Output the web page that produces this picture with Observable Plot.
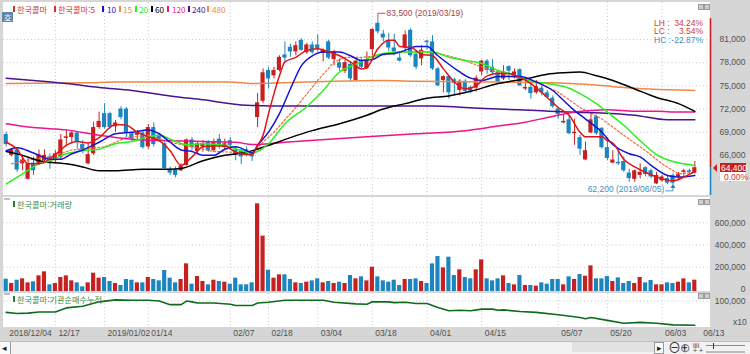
<!DOCTYPE html>
<html lang="ko"><head><meta charset="utf-8">
<script src="https://cdn.jsdelivr.net/npm/d3@7"></script>
<script src="https://cdn.jsdelivr.net/npm/@observablehq/plot@0.6"></script>
<style>
html,body{margin:0;padding:0;background:#d6d6d6;overflow:hidden}
#c{position:relative;width:750px;height:354px;background:#d6d6d6;overflow:hidden;font-family:"Liberation Sans",sans-serif;font-size:8.5px;color:#555}
#c svg{position:absolute;left:0;overflow:visible}
.p{position:absolute;left:3px;width:707px;background:#fff}
.t{position:absolute;white-space:nowrap;line-height:8px}
.k{font-family:"Noto Sans CJK KR",sans-serif;font-size:8.2px;line-height:10px}
.m{position:absolute;width:2px;height:6px}
.i{position:absolute;width:4px;height:4px;background:#ccc;border:.5px solid #999}
</style></head><body><div id="c">
<div class="p" style="top:2px;height:193px"></div>
<div class="p" style="top:197px;height:94px"></div>
<div class="p" style="top:293px;height:34px"></div>
</div>
<script>
// prices in thousands of won, one entry per trading day
const opens=[68.7,66.0,66.7,64.9,62.9,65.0,64.9,65.3,65.8,65.3,
65.7,68.2,68.3,68.9,67.4,64.9,66.2,69.6,71.4,71.4,
69.7,72.0,72.0,68.8,68.6,68.9,67.1,69.6,68.6,67.5,
64.2,64.1,64.0,64.7,68.0,66.5,67.1,67.7,66.6,68.1,
67.0,67.9,66.7,66.6,66.7,66.2,70.9,73.0,77.0,76.3,
77.0,79.0,80.0,79.4,80.9,79.3,80.3,80.3,79.2,80.7,
78.4,78.0,76.9,77.8,75.7,78.3,77.2,79.7,83.1,81.7,
80.9,79.9,78.6,79.9,82.2,79.1,78.5,80.8,80.7,77.2,
75.7,76.2,75.8,74.4,75.6,74.8,74.7,76.8,78.2,77.4,
76.8,75.9,77.5,76.2,77.1,74.6,74.8,74.1,74.7,74.1,
73.4,72.0,70.2,70.6,68.8,68.3,65.4,68.9,71.0,69.5,
67.0,65.0,65.1,65.2,63.7,62.9,63.4,64.4,64.0,62.3,
62.7,63.0,63.4,63.2,63.8,64.0,63.7];
const closes=[67.4,66.7,64.1,65.4,64.9,64.0,66.1,66.0,64.9,66.2,
68.0,68.4,68.9,67.8,66.7,66.1,69.6,70.4,69.6,69.6,
70.2,70.9,68.9,68.1,68.9,67.0,69.6,67.4,68.0,64.3,
63.7,63.4,64.6,68.0,67.0,67.5,67.5,66.6,67.7,67.3,
67.5,67.3,66.0,65.8,66.1,65.8,72.8,76.7,75.9,77.0,
78.7,78.6,79.4,80.2,79.6,80.3,79.3,79.7,79.6,78.6,
79.4,77.3,78.0,75.9,78.2,77.4,78.3,82.3,82.0,81.2,
79.9,79.4,78.2,81.6,78.9,77.4,79.6,80.6,77.2,75.0,
76.2,74.1,75.3,75.6,74.3,74.3,76.0,78.2,77.0,76.7,
75.5,76.8,76.9,76.8,75.0,74.8,74.0,74.9,74.1,73.5,
72.3,71.3,70.4,68.8,69.0,66.8,66.6,70.6,68.8,67.0,
65.6,65.4,64.9,64.0,63.0,64.0,63.8,63.5,63.2,63.4,
63.2,62.4,62.4,63.5,64.0,63.8,64.4];
const highs=[69.0,66.8,66.8,66.0,65.8,65.8,66.7,66.7,66.2,66.6,
68.7,69.3,69.2,69.0,67.9,67.5,70.3,71.6,72.7,71.6,
70.5,72.3,72.2,69.0,69.2,69.2,70.0,70.2,68.8,67.7,
64.5,64.5,64.9,68.1,68.3,67.7,67.9,67.9,68.1,68.7,
68.1,68.3,67.1,66.8,67.1,66.4,74.0,77.2,77.4,77.4,
78.9,80.7,80.4,80.7,81.1,80.5,80.7,81.6,79.8,80.9,
79.6,78.5,78.3,78.1,78.3,78.5,79.4,82.4,83.5,82.2,
81.8,81.7,79.4,82.1,82.4,79.6,80.2,80.9,81.5,77.4,
76.3,76.3,76.0,75.8,75.8,75.0,76.3,78.3,78.4,78.4,
77.0,77.6,77.6,77.2,77.2,75.9,75.3,75.7,75.0,74.4,
73.7,72.1,71.2,71.2,70.7,68.6,67.7,71.3,71.2,69.6,
68.3,66.6,66.8,65.8,64.2,64.1,64.9,64.5,64.2,63.8,
63.4,63.4,63.6,63.8,64.2,64.2,65.2];
const lows=[67.1,65.8,63.8,64.0,62.8,63.4,64.7,64.9,64.2,64.9,
65.4,67.1,67.5,66.8,66.2,64.8,66.0,69.4,69.4,69.4,
69.0,70.6,68.3,67.8,67.9,66.8,66.8,67.1,67.7,64.0,
63.4,63.1,63.9,64.6,66.6,66.2,66.4,66.4,66.4,66.8,
66.6,66.6,65.3,64.8,65.8,65.2,69.6,72.7,74.6,75.9,
76.8,78.1,78.7,78.9,79.5,79.1,79.1,79.4,78.1,78.4,
77.6,76.9,76.6,75.6,75.6,77.2,77.1,78.9,81.7,80.7,
79.4,78.9,78.1,79.6,78.7,77.1,77.6,79.6,77.0,74.9,
74.1,73.3,73.7,73.7,74.0,74.0,74.2,76.3,76.5,76.3,
75.3,75.7,75.7,75.9,74.9,74.4,73.3,73.9,73.7,73.3,
72.1,70.7,70.1,68.7,67.3,66.0,65.3,68.8,68.6,66.8,
65.3,64.9,64.7,63.8,62.5,62.5,63.0,63.2,63.0,62.2,
62.5,62.2,62.2,62.7,63.2,63.6,63.6];
// volume in thousands of shares
const volumes=[92,53,83,95,59,68,122,158,41,53,
107,122,77,59,23,59,146,101,107,71,
53,35,89,83,59,59,107,89,77,170,
101,59,89,230,47,116,71,41,83,71,
65,47,101,41,41,59,771,480,173,101,
131,131,89,59,53,65,77,95,59,71,
53,65,53,125,95,113,77,200,113,77,
65,83,35,89,89,95,71,53,230,296,
194,290,125,176,107,95,176,266,95,77,
95,122,53,41,125,35,35,29,59,47,
89,89,41,113,89,134,119,212,95,95,
116,71,104,53,71,53,107,59,80,41,
41,59,53,65,95,59,83];
// moving averages read at sampled trading days
const ma5Days=[0,2,4,6,9,11,13,15,17,20,22,24,26,28,30,32,34,36,38,40,42,44,45,46,47,48,49,50,51,53,55,57,59,61,63,65,66,68,70,71,72,74,76,78,80,82,84,86,88,90,92,94,96,99,101,103,105,106,109,110,111,113,115,117,119,122,124,126];
const ma5=[67.7,66.8,64.9,64.9,66.1,67.3,67.8,67.6,68.3,70.0,69.9,69.0,68.4,67.9,66.6,64.7,65.8,67.1,67.2,67.2,66.4,66.1,66.1,67.3,68.6,71.4,74.0,76.3,78.1,78.7,79.6,79.8,79.4,78.9,78.1,77.2,77.4,79.8,80.9,80.9,80.1,80.0,79.1,78.9,77.2,75.5,74.6,75.0,76.3,76.6,76.6,76.1,75.3,73.5,72.2,71.2,69.0,68.4,68.4,67.9,67.6,65.5,64.5,63.8,63.2,62.7,63.2,63.9];
const ma10Days=[0,2,5,8,10,12,14,17,20,23,26,28,30,32,34,36,38,40,42,44,45,46,48,50,52,54,56,58,61,63,65,67,69,71,73,75,77,79,81,83,85,87,90,92,94,97,100,102,104,106,109,111,114,116,118,121,123,126];
const ma10=[66.6,67.0,66.3,65.5,65.5,66.2,66.7,67.7,68.8,69.0,69.3,68.8,67.7,66.7,66.5,66.0,66.0,66.8,67.1,66.6,66.3,67.3,69.0,71.4,74.6,77.6,78.9,79.4,79.4,78.9,78.3,78.4,79.1,79.2,79.6,80.1,80.1,78.9,77.8,76.8,76.0,75.7,76.2,76.2,76.2,75.5,74.4,73.1,71.8,70.7,69.0,67.4,66.2,65.8,64.7,63.4,63.2,63.4];
const ma15Days=[1,3,8,12,18,22,26,30,34,38,42,44,45,47,49,53,57,60,62,65,68,73,78,83,88,92,97,101,105,109,113,117,120,123,126];
const ma15=[64.9,65.3,65.8,66.7,67.1,68.3,68.6,67.7,67.1,66.5,66.4,66.4,66.3,67.7,69.0,72.2,75.7,78.1,78.7,78.7,78.9,79.4,79.4,78.5,77.2,76.3,75.5,74.2,72.2,70.7,68.6,66.6,64.9,63.6,63.8];
const ma20Days=[0,3,6,8,11,14,17,20,23,26,28,30,33,36,40,43,45,48,51,55,58,61,64,66,69,72,75,78,81,84,87,90,92,96,100,103,105,108,110,113,116,119,122,124,126];
const ma20=[62.3,63.6,64.9,65.3,66.2,66.6,66.8,67.5,67.8,68.4,68.6,68.1,67.4,67.5,67.3,66.6,66.3,67.5,70.1,72.3,74.4,76.8,77.8,78.5,79.2,79.4,79.4,79.4,78.7,78.3,77.9,77.0,76.6,75.6,75.2,74.7,74.0,72.7,71.6,69.9,67.9,66.1,65.2,64.9,64.7];
const ma60Days=[0,3,6,11,14,17,20,25,28,30,32,36,40,44,48,52,56,61,66,69,73,77,81,85,90,95,99,102,105,108,111,115,119,123,126];
const ma60=[66.5,66.0,65.3,64.9,64.5,64.0,64.0,64.2,64.2,64.2,64.3,65.3,66.0,66.4,67.3,68.3,69.2,70.1,71.2,72.0,72.7,73.4,73.7,74.3,75.3,75.9,76.5,76.7,76.8,76.3,75.7,74.6,73.5,72.7,71.7];
const ma120Days=[0,5,11,17,23,30,36,42,45,51,59,66,75,84,90,95,99,103,107,110,115,119,123,126];
const ma120=[70.1,69.6,69.3,68.6,68.1,67.9,67.8,67.7,67.4,67.7,68.1,68.4,68.8,69.2,69.8,70.3,70.9,71.5,71.8,71.9,71.7,71.7,71.6,71.6];
const ma240Days=[0,5,11,17,23,30,36,44,51,60,69,78,84,90,97,103,109,115,121,126];
const ma240=[76.0,75.7,75.3,74.8,74.4,73.7,73.2,72.5,72.4,72.4,72.4,72.4,72.2,72.0,71.8,71.6,71.5,71.2,70.6,70.6];
const ma480Days=[0,15,20,41,45,51,60,69,75,90,100,106,111,115,121,126];
const ma480=[75.3,75.4,75.5,75.5,75.3,75.4,75.6,75.7,75.6,75.5,75.4,75.2,74.9,74.7,74.5,74.4];
// institutional cumulative net buying
const instDays=[0,2,4,6,9,11,14,17,20,23,26,28,30,32,33,34,35,38,41,42,44,45,46,48,51,54,58,60,64,66,67,70,71,73,75,77,79,81,83,85,87,89,90,91,94,97,101,105,106,107,110,113,116,119,122,126];
const inst=[72000,69000,70000,73000,73000,83000,87000,98000,103000,102000,102000,100000,91000,91000,100000,98000,95000,95000,92000,89000,89000,89000,95000,97000,102000,102000,102000,97000,93000,92000,98000,98000,96000,97000,94000,94000,84000,76000,77000,76000,80000,80000,77000,78000,74000,72000,66000,59000,56000,59000,52000,45000,47000,45000,41000,40000];
// axis and annotation labels
const priceTicks=[63,66,69,72,75,78,81];
const volumeTicks=[0,200,400,600];
const instTicks=[100000];
const dateDays=[0,9,18,26,41,48,57,67,77,87,101,110,120,127];
const dateLabels=["2018/12/04","12/17","2019/01/02","01/14","02/07","02/18","03/04","03/18","04/01","04/15","05/07","05/20","06/03","06/13"];
const gridDays=[9,18,26,41,48,57,67,77,87,101,110,120];
const maStyles=[
 ["ma480",ma480Days,ma480,"#f08848"],["ma240",ma240Days,ma240,"#48148c"],["ma120",ma120Days,ma120,"#ee1489"],
 ["ma60",ma60Days,ma60,"#000000"],["ma20",ma20Days,ma20,"#2cf01c"],["ma10",ma10Days,ma10,"#1414d2"],["ma5",ma5Days,ma5,"#e01414"]];

const RED="#c62020",BLUE="#1a85bf",GRID="#c8c8c8";
const days=d3.range(opens.length);
const col=i=>closes[i]>=opens[i]?RED:BLUE;
const xScale={type:"linear",domain:[-0.494,128.87],axis:null};
const base={width:750,marginLeft:3,marginRight:40,marginTop:0,marginBottom:0,x:xScale,
  style:{background:"transparent",fontFamily:'"Liberation Sans",sans-serif',fontSize:"8.5px",color:"#555"}};
const c=document.getElementById("c");
const place=(svg,top)=>{svg.style.top=top+"px";c.appendChild(svg);};
const axis=(vals,fmt)=>Plot.axisY(vals,{anchor:"right",tickSize:0,tickPadding:35,textAnchor:"end",tickFormat:fmt,label:null,fill:"#505050"});
const vgrid=Plot.ruleX(gridDays,{stroke:GRID,strokeDasharray:"1,2.5"});

const latest=closes[closes.length-1];
const pricePlot=Plot.plot({...base,height:193,y:{domain:[60.8,85.8],axis:null},marks:[
  vgrid,
  Plot.ruleY(priceTicks,{stroke:GRID,strokeDasharray:"1,2.5"}),
  Plot.ruleX(days,{x:d=>d,y1:d=>lows[d],y2:d=>highs[d],stroke:col,strokeWidth:1}),
  Plot.rect(days,{x1:d=>d-0.38,x2:d=>d+0.38,y1:d=>opens[d],y2:d=>closes[d]===opens[d]?opens[d]+.05:closes[d],fill:col}),
  Plot.line(ma15Days,{x:d=>d,y:(d,i)=>ma15[i],stroke:"#f07040",strokeWidth:1.2,strokeDasharray:"2,2"}),
  ...maStyles.map(([,ds,vs,color])=>Plot.line(ds,{x:d=>d,y:(d,i)=>vs[i],stroke:color,strokeWidth:1.5,curve:"monotone-x"})),
  Plot.ruleX([128.87],{y1:latest,y2:83.7,stroke:RED,strokeWidth:1.6}),
  Plot.ruleX([128.87],{y1:latest,y2:60.8,stroke:BLUE,strokeWidth:1.6}),
  Plot.link([[68,83.6,68,84.4],[68,84.4,69.4,84.4]],{x1:"0",y1:"1",x2:"2",y2:"3",stroke:RED,strokeWidth:.8}),
  Plot.link([[122,61.85,122,61.4],[122,61.4,120.6,61.4]],{x1:"0",y1:"1",x2:"2",y2:"3",stroke:BLUE,strokeWidth:.8}),
  Plot.dot([[122,61.95]],{x:"0",y:"1",symbol:"triangle",r:1.8,fill:BLUE}),
  Plot.text(["83,500 (2019/03/19)"],{x:69.6,y:84.4,textAnchor:"start",fill:"#b04040"}),
  Plot.text(["62,200 (2019/06/05)"],{x:120.4,y:61.55,textAnchor:"end",fill:"#3a8fc0"}),
  axis(priceTicks,d=>d3.format(",")(d*1000))
]});
place(pricePlot,2);

const volBottom=-19;
const volPlot=Plot.plot({...base,height:94,y:{domain:[volBottom,(291-197)*9.01+volBottom],axis:null},marks:[
  vgrid,
  Plot.ruleY(volumeTicks.slice(1),{stroke:GRID,strokeDasharray:"1,2.5"}),
  Plot.rect(days,{x1:d=>d-0.38,x2:d=>d+0.38,y1:volBottom,y2:d=>volumes[d],fill:col}),
  axis(volumeTicks,d=>d3.format(",")(d*1000))
]});
place(volPlot,197);

const instPlot=Plot.plot({...base,height:48,marginBottom:14,y:{domain:[34400,118700],axis:null},marks:[
  vgrid,
  Plot.ruleY(instTicks,{stroke:GRID,strokeDasharray:"1,2.5"}),
  Plot.line(instDays,{x:d=>d,y:(d,i)=>inst[i],stroke:"#0f6a1e",strokeWidth:1.6}),
  axis(instTicks,d3.format(",")),
  Plot.text(dateLabels,{x:(d,i)=>dateDays[i],frameAnchor:"bottom",dy:8,dx:3,textAnchor:"start",fill:"#505050"})
]});
place(instPlot,293);

// legend and window furniture
const T=(txt,x,y,color,cls="")=>{const e=document.createElement("div");e.className="t "+cls;e.textContent=txt;
  e.style.cssText+=`left:${x}px;top:${y}px;color:${color}`;c.appendChild(e);return e;};
const M=(x,y,color)=>{const e=document.createElement("div");e.className="m";e.style.cssText+=`left:${x}px;top:${y}px;background:${color}`;c.appendChild(e);};
[["한국콜마",17,13,"#c03a3a"],["한국콜마:5",58,54,"#d83030"],["10",107,102,"#1414d2"],["15",123,119,"#f08848"],["20",139,135,"#2cf01c"],["60",155,151,"#000"],["120",172,167,"#ee1489"],["240",192,188,"#48148c"],["480",212,207,"#f08848"]]
 .forEach(([s,x,mx,color])=>{M(mx,6,color);T(s,x,4,color,"k");});
M(13,201,"#2a7a3a");T("한국콜마:거래량",17,199,"#3c8c4c","k");
M(13,296,"#2a7a3a");T("한국콜마:기관순매수누적",17,294,"#3c8c4c","k");
T("x10",733,318,"#505050");
// high / low / close ratios
[["LH :","34.24%",19,"#c83c3c"],["LC :","3.54%",27,"#c83c3c"],["HC :","-22.87%",36,"#3a8fc0"]].forEach(([a,b,y,color])=>{
  T(a,654,y,color);const e=T(b,0,y,color);e.style.left="";e.style.right=(750-703)+"px";});
// price tag
const box=(x,y,w,h,bg,extra="")=>{const e=document.createElement("div");e.style.cssText=`position:absolute;left:${x}px;top:${y}px;width:${w}px;height:${h}px;background:${bg};${extra}`;c.appendChild(e);return e;};
box(713,164,0,0,"none","border-top:4px solid transparent;border-bottom:4px solid transparent;border-right:4px solid #c62020");
box(720,163,26,9,"#c62020");T("64,400",721,163.5,"#fff");
box(720,172,26,9,"#fff");T("0.00%",724,172.5,"#d83030");
// corner button
box(2,12,11,10,"#5f86ad");T("호",4,12,"#fff","k");
// panel icons
[[4],[199],[293]].forEach(([y])=>{[698,704].forEach(x=>{const i=document.createElement("div");i.className="i";i.style.left=x+"px";i.style.top=y+"px";c.appendChild(i);});});
[198,293].forEach(y=>box(4,y,6,2,"#c0c0c0"));
// bottom bar
box(0,341,750,1,"#a8c4e0");
box(0,342,750,12,"#f2f2f2");
box(0,342,10,12,"#fafafa","border-right:1px solid #999");T("◂",2,344,"#222");
box(572,342,82,10,"#e2e2e2");
box(654,342,10,12,"#fafafa","border:1px solid #999;box-sizing:border-box");T("▸",657,344,"#222");
T("⊖",668,344,"#333").style.fontSize="13px";T("⊕",680,344,"#333").style.fontSize="13px";
T("iiii",693,342,"#444").style.fontSize="7px";T("+ +",693,347,"#444").style.fontSize="7px";
box(706,345,39,1,"#888");box(713,343,1,6,"#333");box(706,351,39,2,"#bbb");
</script></body></html>
